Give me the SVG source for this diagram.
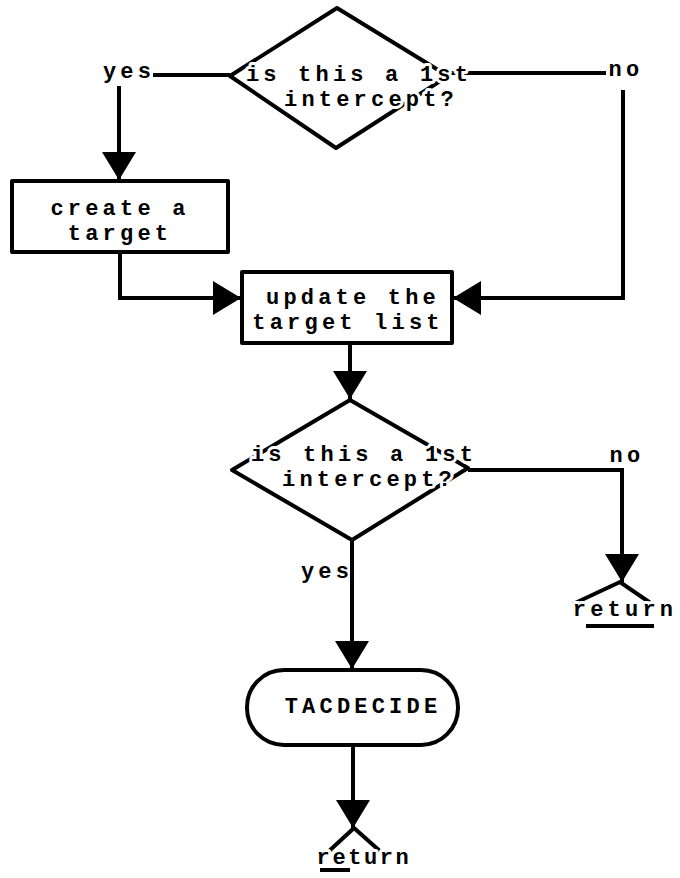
<svg xmlns="http://www.w3.org/2000/svg" width="680" height="878" viewBox="0 0 680 878">
<style>
.shape{fill:none;stroke:#000;stroke-width:4;stroke-linejoin:round}
.line{fill:none;stroke:#000;stroke-width:4}
.t{font-family:"Liberation Mono","DejaVu Sans Mono",monospace;font-weight:bold;font-size:22px;letter-spacing:4.2px;fill:#000;text-anchor:middle}
.halo{paint-order:stroke;stroke:#fff;stroke-width:6px;stroke-linejoin:round}
</style>
<defs>
<marker id="ah" markerUnits="userSpaceOnUse" markerWidth="30" markerHeight="34" refX="28" refY="17" orient="auto">
<path d="M0,0 L28,17 L0,34 z" fill="#000"/>
</marker>
</defs>
<rect width="680" height="878" fill="#fff"/>
<g id="connectors">
<path class="line" d="M230,75 H153"/>
<path class="line" d="M119,86 V180" marker-end="url(#ah)"/>
<path class="line" d="M448,73 H606"/>
<path class="line" d="M623,90 V298 H453" marker-end="url(#ah)"/>
<path class="line" d="M120,252 V298 H241" marker-end="url(#ah)"/>
<path class="line" d="M350,343 V399" marker-end="url(#ah)"/>
<path class="line" d="M468,470 H622 V582" marker-end="url(#ah)"/>
<path class="line" d="M352,540 V669" marker-end="url(#ah)"/>
<path class="line" d="M353,745 V828" marker-end="url(#ah)"/>
</g>
<g id="decision1">
<polygon class="shape" points="337,8 448,76 336,148 230,76"/>
<text class="t halo"><tspan x="359" y="81">is this a 1st</tspan><tspan x="371" y="106">intercept?</tspan></text>
</g>
<g id="label-yes1"><text class="t" x="129" y="78">yes</text></g>
<g id="label-no1"><text class="t" x="626" y="76">no</text></g>
<g id="create">
<rect class="shape" x="12" y="181" width="216" height="71"/>
<text class="t"><tspan x="120" y="215">create a</tspan><tspan x="120" y="240">target</tspan></text>
</g>
<g id="update">
<rect class="shape" x="242" y="272" width="210" height="71"/>
<text class="t"><tspan x="353" y="304">update the</tspan><tspan x="348" y="329">target list</tspan></text>
</g>
<g id="decision2">
<polygon class="shape" points="350,400 468,468 352,540 232,470"/>
<text class="t halo"><tspan x="364" y="461">is this a 1st</tspan><tspan x="369" y="486">intercept?</tspan></text>
</g>
<g id="label-no2"><text class="t" x="627" y="462">no</text></g>
<g id="label-yes2"><text class="t" x="327" y="578">yes</text></g>
<g id="return1">
<path class="line" d="M573,604 L620,582 L652,604"/>
<text class="t halo" x="625" y="616">return</text>
<line class="line" x1="586" y1="626" x2="654" y2="626" stroke-width="3"/>
</g>
<g id="tacdecide">
<rect class="shape" x="247" y="670" width="211" height="75" rx="37" ry="37"/>
<text class="t" x="363" y="713">TACDECIDE</text>
</g>
<g id="return2">
<path class="line" d="M328,852 L354,828 L381,852"/>
<text class="t halo" x="364" y="864" style="letter-spacing:2.6px">return</text>
<line class="line" x1="320" y1="870" x2="350" y2="870" stroke-width="3"/>
</g>
</svg>
